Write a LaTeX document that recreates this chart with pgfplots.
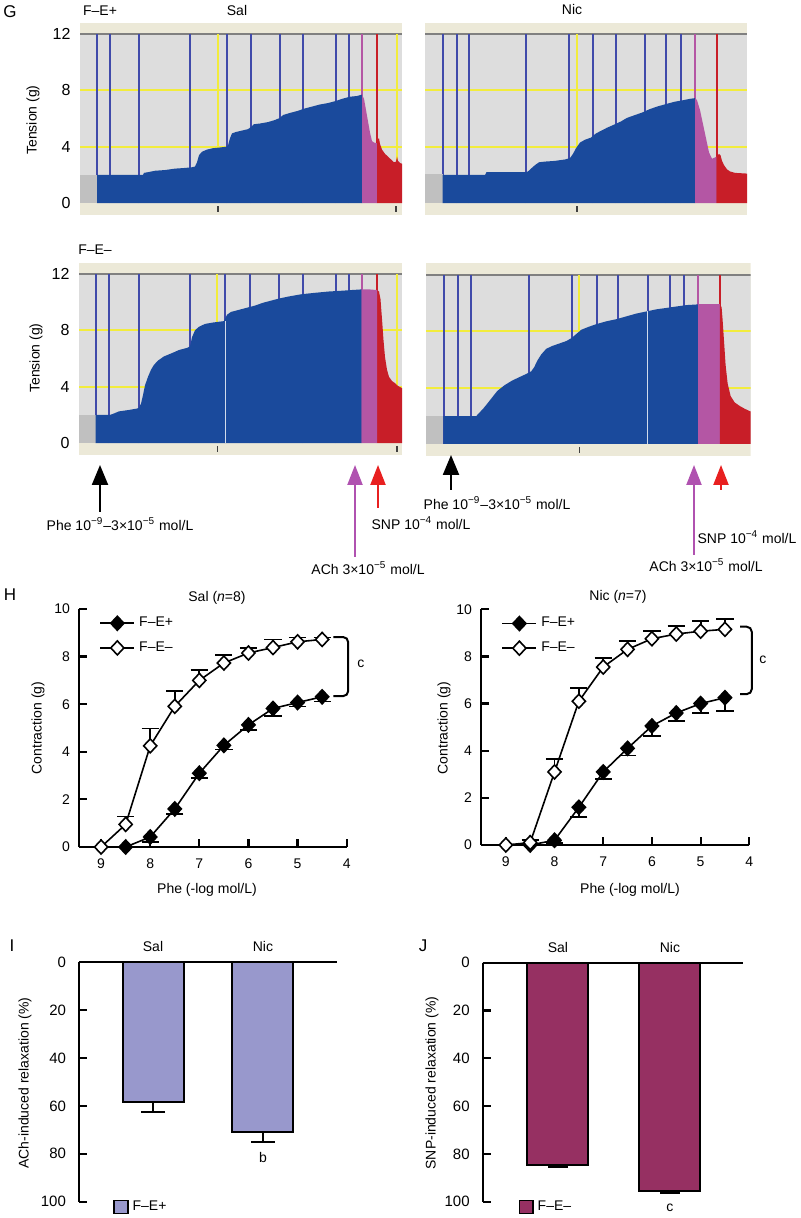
\documentclass[border=0pt]{standalone}
\usepackage{fontspec}
\setmainfont{Liberation Sans}
\usepackage{pgfplots}
\pgfplotsset{compat=1.18}
\usetikzlibrary{arrows.meta}
\definecolor{beige}{RGB}{236,233,216}
\definecolor{bggray}{RGB}{221,221,221}
\definecolor{tblue}{RGB}{26,74,156}
\definecolor{vblue}{RGB}{64,74,170}
\definecolor{tpink}{RGB}{180,86,164}
\definecolor{tred}{RGB}{200,30,40}
\definecolor{ylw}{RGB}{242,236,60}
\definecolor{gblock}{RGB}{192,192,192}
\definecolor{lav}{RGB}{152,152,204}
\definecolor{maroon}{RGB}{150,48,98}
\definecolor{apurple}{RGB}{176,82,176}
\definecolor{ared}{RGB}{232,32,32}
\newcommand{\sz}[1]{\fontsize{#1}{#1}\selectfont}
\pgfplotsset{
 trace/.style={scale only axis, height=96.25pt, xmin=0, ymin=-0.85, ymax=12.8,
   xtick=\empty, ytick={0,4,8,12}, major tick length=0pt, axis line style={draw=none},
   tick style={draw=none}, yticklabel style={font=\sz{8}, xshift=-1.2pt},
   /pgf/number format/assume math mode=true, anchor=north west},
 dr/.style={scale only axis, anchor=south west, axis lines*=left, axis line style={line width=1.1pt},
   tick style={line width=1.1pt, black}, tick align=inside, major tick length=4pt,
   clip=false, font=\sz{7}, /pgf/number format/assume math mode=true,
   xmin=4, ymin=0, ymax=10, x dir=reverse, xtick={4,5,6,7,8,9}, ytick={0,2,4,6,8,10},
   xticklabel style={yshift=-2.5pt}, yticklabel style={xshift=-1pt},
   legend style={draw=none, fill=none, at={(axis description cs:0.075,0.985)}, anchor=north west, font=\sz{7}, row sep=2pt, inner sep=0pt},
   legend cell align=left},
 fplus/.style={black, line width=0.8pt, mark=diamond*, mark size=3.5pt, mark options={fill=black, xscale=1.25, solid},
   error bars/.cd, y dir=minus, y explicit, error bar style={line width=0.9pt}, error mark options={rotate=90, mark size=4.3pt, line width=0.9pt}},
 fminus/.style={black, line width=0.8pt, mark=diamond*, mark size=3.5pt, mark options={fill=white, xscale=1.25, solid},
   error bars/.cd, y dir=plus, y explicit, error bar style={line width=0.9pt}, error mark options={rotate=90, mark size=4.3pt, line width=0.9pt}},
 rb/.style={scale only axis, anchor=south west, ymin=0, ymax=100, y dir=reverse, axis y line*=left, axis x line=none,
   ytick={0,20,40,60,80,100}, tick align=inside, major tick length=4pt, axis line style={line width=1.1pt},
   tick style={line width=1.1pt,black}, clip=false, font=\sz{7}, /pgf/number format/assume math mode=true,
   yticklabel style={xshift=-3pt, font=\sz{7.5}},
   legend style={draw=none, fill=none, font=\sz{7}, inner sep=0pt, anchor=west}},
}
\newcommand{\tbg}[1]{%
 \fill[beige] (axis cs:0,-0.85) rectangle (axis cs:#1,12.8);
 \fill[bggray] (axis cs:0,0) rectangle (axis cs:#1,12);
 \draw[ylw, line width=1pt] (axis cs:0,4) -- (axis cs:#1,4);
 \draw[ylw, line width=1pt] (axis cs:0,8) -- (axis cs:#1,8);
 \draw[gray, line width=1pt] (axis cs:0,12) -- (axis cs:#1,12);}
\newcommand{\vl}[2]{\draw[#1, line width=0.9pt] (axis cs:#2,0) -- (axis cs:#2,12);}
\newcommand{\tk}[1]{\draw[black!75, line width=0.8pt] (axis cs:#1,-0.2) -- (axis cs:#1,-0.65);}
\begin{document}
\begin{tikzpicture}[x=0.5pt,y=0.5pt]
\coordinate (pTL) at (80,{1218-22.7});
\coordinate (pTR) at (425,{1218-22.7});
\coordinate (pBL) at (79,{1218-262.6});
\coordinate (pBR) at (426,{1218-263.5});
\coordinate (pHL) at (79,{1218-847});
\coordinate (pHR) at (481,{1218-845});
\coordinate (pI) at (79,{1218-1201.7});
\coordinate (pJ) at (482.7,{1218-1201.7});

% ---------------- G: Sal F-E+ ----------------
\begin{axis}[trace, at={(pTL)}, width=161pt, xmax=322]
\tbg{322}
\vl{ylw}{138} \vl{ylw}{317}
\vl{vblue}{17} \vl{vblue}{30} \vl{vblue}{59} \vl{vblue}{110} \vl{vblue}{147}
\vl{vblue}{171} \vl{vblue}{200} \vl{vblue}{223} \vl{vblue}{256} \vl{vblue}{269}
\vl{tpink}{282} \vl{tred}{297}
\fill[gblock] (axis cs:0,0) rectangle (axis cs:17,2);
\addplot[fill=tblue, draw=none] coordinates {(17,2.0) (63,2.0) (64,2.15) (68,2.2) (75,2.3) (85,2.35) (95,2.45) (105,2.5) (112,2.55) (115,2.6) (117,2.9) (119,3.4) (122,3.65) (127,3.8) (133,3.9) (140,3.95) (146,4.0) (148,4.1) (150,4.6) (152,4.95) (156,5.05) (162,5.15) (168,5.25) (171,5.4) (174,5.6) (180,5.65) (188,5.75) (195,5.9) (200,6.05) (203,6.25) (210,6.4) (218,6.55) (224,6.7) (232,6.85) (240,7.0) (248,7.1) (256,7.25) (262,7.4) (270,7.55) (277,7.6) (282,7.7)} \closedcycle;
\addplot[fill=tpink, draw=none] coordinates {(282,7.7) (284,7.4) (286,6.6) (288,5.8) (290,5.0) (292,4.4) (294,4.3) (297,4.25)} \closedcycle;
\addplot[fill=tred, draw=none] coordinates {(297,4.5) (299,4.6) (300,4.2) (302,3.8) (305,3.5) (308,3.3) (311,3.1) (314,2.9) (316,2.95) (317,3.3) (318,3.0) (320,2.85) (322,2.8)} \closedcycle;
\tk{138} \tk{316}
\end{axis}

% ---------------- G: Nic F-E+ ----------------
\begin{axis}[trace, at={(pTR)}, width=161pt, xmax=322, yticklabels={}]
\tbg{322}
\vl{ylw}{151.7}
\vl{vblue}{17.7} \vl{vblue}{31.7} \vl{vblue}{44.3} \vl{vblue}{101} \vl{vblue}{144.3}
\vl{vblue}{168.3} \vl{vblue}{191} \vl{vblue}{220} \vl{vblue}{240.7} \vl{vblue}{256}
\vl{tpink}{270} \vl{tred}{291.7}
\fill[gblock] (axis cs:0,0) rectangle (axis cs:17.7,2.05);
\addplot[fill=tblue, draw=none] coordinates {(17.7,2.0) (60,2.0) (61.5,2.2) (100,2.2) (103,2.25) (106,2.45) (110,2.7) (114,2.9) (120,2.95) (130,3.0) (140,3.1) (145,3.2) (148,3.5) (151,3.9) (155,4.3) (160,4.5) (166,4.65) (170,4.9) (175,5.1) (182,5.35) (190,5.6) (196,5.8) (202,6.05) (210,6.25) (218,6.45) (224,6.65) (232,6.85) (242,7.05) (250,7.2) (258,7.3) (265,7.4) (270,7.45)} \closedcycle;
\addplot[fill=tpink, draw=none] coordinates {(270,7.45) (272,7.3) (275,6.6) (278,5.6) (281,4.6) (284,3.6) (287,3.15) (291.7,3.3)} \closedcycle;
\addplot[fill=tred, draw=none] coordinates {(291.7,3.3) (294,3.5) (295.5,3.4) (297,3.0) (299,2.7) (302,2.4) (305,2.25) (310,2.15) (322,2.1)} \closedcycle;
\tk{151.7}
\end{axis}

% ---------------- G: Sal F-E- ----------------
\begin{axis}[trace, at={(pBL)}, width=161.5pt, xmax=323]
\tbg{323}
\vl{ylw}{138.3} \vl{ylw}{317.7}
\vl{vblue}{17.3} \vl{vblue}{30} \vl{vblue}{60} \vl{vblue}{111} \vl{vblue}{146.3}
\vl{vblue}{171} \vl{vblue}{200.3} \vl{vblue}{224} \vl{vblue}{256.7} \vl{vblue}{270}
\vl{tpink}{282.7} \vl{tred}{298.3}
\fill[gblock] (axis cs:0,0) rectangle (axis cs:16.7,2.0);
\addplot[fill=tblue, draw=none] coordinates {(16.7,2.0) (31,2.0) (35,2.1) (40,2.25) (50,2.35) (58,2.45) (60,2.5) (62,2.8) (64,3.4) (66,4.1) (69,4.7) (72,5.2) (75,5.55) (79,5.85) (85,6.15) (92,6.35) (100,6.6) (108,6.75) (111,6.85) (113,7.5) (116,8.0) (120,8.25) (126,8.45) (134,8.55) (145,8.65) (148,9.1) (152,9.3) (160,9.45) (168,9.6) (176,9.75) (184,9.95) (192,10.1) (200,10.25) (210,10.4) (222,10.55) (235,10.65) (250,10.75) (262,10.8) (272,10.85) (282.7,10.9)} \closedcycle;
\addplot[fill=tpink, draw=none] coordinates {(282.7,10.9) (290,10.9) (298.3,10.85)} \closedcycle;
\addplot[fill=tred, draw=none] coordinates {(298.3,10.85) (300,10.75) (301.5,10.2) (303,8.8) (304.5,7.3) (306,6.1) (308,5.2) (310,4.7) (313,4.4) (316,4.25) (319,4.05) (323,3.9)} \closedcycle;
\draw[white!80!tblue, line width=0.8pt] (axis cs:146.3,0) -- (axis cs:146.3,8.65);
\tk{138.3} \tk{317.7}
\end{axis}

% ---------------- G: Nic F-E- ----------------
\begin{axis}[trace, at={(pBR)}, width=162pt, xmax=324, yticklabels={}]
\tbg{324}
\vl{ylw}{153}
\vl{vblue}{18} \vl{vblue}{32.3} \vl{vblue}{45} \vl{vblue}{103} \vl{vblue}{145.7}
\vl{vblue}{170.7} \vl{vblue}{191.3} \vl{vblue}{221.2} \vl{vblue}{243.3} \vl{vblue}{257.3}
\vl{tpink}{271.7} \vl{tred}{293.3}
\fill[gblock] (axis cs:0,0) rectangle (axis cs:17.3,2.0);
\addplot[fill=tblue, draw=none] coordinates {(17.3,1.97) (50,1.97) (53,2.2) (57,2.5) (61,2.85) (66,3.3) (71,3.75) (78,4.15) (86,4.5) (95,4.8) (101,5.0) (105,5.15) (108,5.45) (111,5.9) (115,6.35) (120,6.75) (126,6.95) (132,7.1) (140,7.3) (145,7.5) (150,7.8) (155,8.1) (162,8.3) (170,8.5) (180,8.7) (190,8.85) (200,9.05) (210,9.25) (220,9.4) (230,9.55) (240,9.65) (250,9.75) (260,9.85) (271.7,9.9)} \closedcycle;
\addplot[fill=tpink, draw=none] coordinates {(271.7,9.9) (293.3,9.9)} \closedcycle;
\addplot[fill=tred, draw=none] coordinates {(293.3,9.9) (295,9.7) (296,8.8) (297.5,7.2) (299,5.6) (301,4.3) (304,3.4) (308,2.95) (313,2.7) (318,2.5) (324,2.3)} \closedcycle;
\draw[white!80!tblue, line width=0.8pt] (axis cs:221.2,0) -- (axis cs:221.2,9.4);
\tk{153}
\end{axis}

% G texts
\node[font=\sz{8.5}] at (10,{1218-12}) {G};
\node[font=\sz{7}] at (100,{1218-11}) {F–E+};
\node[font=\sz{7}] at (237,{1218-11}) {Sal};
\node[font=\sz{7}] at (572,{1218-10}) {Nic};
\node[font=\sz{7}] at (95,{1218-250}) {F–E–};
\node[font=\sz{7}, rotate=90] at (33,{1218-120}) {Tension (g)};
\node[font=\sz{7}, rotate=90] at (36,{1218-358}) {Tension (g)};
% arrows
\draw[black, line width=1.1pt, -{Triangle[width=8pt,length=10pt]}] (100,{1218-512}) -- (100,{1218-465});
\draw[apurple, line width=1.1pt, -{Triangle[width=7.5pt,length=10pt]}] (355,{1218-557}) -- (355,{1218-465});
\draw[ared, line width=1.1pt, -{Triangle[width=7.5pt,length=10pt]}] (378,{1218-508}) -- (378,{1218-465});
\draw[black, line width=1.1pt, -{Triangle[width=8pt,length=10pt]}] (451,{1218-490}) -- (451,{1218-455});
\draw[apurple, line width=1.1pt, -{Triangle[width=7.5pt,length=10pt]}] (694,{1218-555}) -- (694,{1218-465});
\draw[ared, line width=1.1pt, -{Triangle[width=7.5pt,length=10pt]}] (721,{1218-490}) -- (721,{1218-465});
\node[font=\sz{7}] at (120,{1218-524}) {Phe 10\textsuperscript{−9}–3×10\textsuperscript{−5} mol/L};
\node[font=\sz{7}] at (421,{1218-523}) {SNP 10\textsuperscript{−4} mol/L};
\node[font=\sz{7}] at (368,{1218-568}) {ACh 3×10\textsuperscript{−5} mol/L};
\node[font=\sz{7}] at (497,{1218-503}) {Phe 10\textsuperscript{−9}–3×10\textsuperscript{−5} mol/L};
\node[font=\sz{7}] at (747,{1218-537}) {SNP 10\textsuperscript{−4} mol/L};
\node[font=\sz{7}] at (706,{1218-565}) {ACh 3×10\textsuperscript{−5} mol/L};

% ---------------- H: Sal ----------------
\begin{axis}[dr, at={(pHL)}, width=133.85pt, height=119pt, xmax=9.45]
\addplot[fplus] coordinates {(8.5,0) +- (0,0) (8,0.42) +- (0,0.2) (7.5,1.6) +- (0,0.2) (7,3.1) +- (0,0.2) (6.5,4.27) +- (0,0.17) (6,5.13) +- (0,0.2) (5.5,5.82) +- (0,0.32) (5,6.07) +- (0,0.17) (4.5,6.31) +- (0,0.2)};
\addlegendentry{F–E+}
\addplot[fminus] coordinates {(9,0) +- (0,0) (8.5,0.95) +- (0,0.33) (8,4.25) +- (0,0.73) (7.5,5.91) +- (0,0.63) (7,7.0) +- (0,0.42) (6.5,7.73) +- (0,0.32) (6,8.15) +- (0,0.2) (5.5,8.38) +- (0,0.34) (5,8.62) +- (0,0.18) (4.5,8.72) +- (0,0.08)};
\addlegendentry{F–E–}
\draw[line width=1pt, rounded corners=2.5pt] (axis cs:4.27,8.82) -- (axis cs:3.97,8.82) -- (axis cs:3.97,6.34) -- (axis cs:4.27,6.34);
\node[font=\sz{7}] at (axis cs:3.71,7.69) {c};
\end{axis}

% ---------------- H: Nic ----------------
\begin{axis}[dr, at={(pHR)}, width=134.15pt, height=117.85pt, xmax=9.51]
\addplot[fplus] coordinates {(8.5,0) +- (0,0) (8,0.2) +- (0,0.1) (7.5,1.6) +- (0,0.4) (7,3.1) +- (0,0.3) (6.5,4.1) +- (0,0.3) (6,5.05) +- (0,0.42) (5.5,5.6) +- (0,0.35) (5,6.0) +- (0,0.4) (4.5,6.25) +- (0,0.55)};
\addlegendentry{F–E+}
\addplot[fminus] coordinates {(9,0) +- (0,0) (8.5,0.1) +- (0,0.1) (8,3.1) +- (0,0.56) (7.5,6.1) +- (0,0.55) (7,7.55) +- (0,0.4) (6.5,8.3) +- (0,0.35) (6,8.75) +- (0,0.32) (5.5,8.95) +- (0,0.35) (5,9.07) +- (0,0.43) (4.5,9.15) +- (0,0.45)};
\addlegendentry{F–E–}
\draw[line width=1pt, rounded corners=2.5pt] (axis cs:4.19,9.26) -- (axis cs:3.95,9.26) -- (axis cs:3.95,6.4) -- (axis cs:4.19,6.4);
\node[font=\sz{7}] at (axis cs:3.72,7.85) {c};
\end{axis}

% H texts
\node[font=\sz{8.5}] at (10,{1218-595}) {H};
\node[font=\sz{7}] at (217,{1218-598}) {Sal (\textit{n}=8)};
\node[font=\sz{7}] at (618,{1218-597}) {Nic (\textit{n}=7)};
\node[font=\sz{7}, rotate=90] at (38,{1218-728}) {Contraction (g)};
\node[font=\sz{7}, rotate=90] at (444,{1218-728}) {Contraction (g)};
\node[font=\sz{7}] at (207,{1218-890}) {Phe (-log mol/L)};
\node[font=\sz{7}] at (630,{1218-890}) {Phe (-log mol/L)};

% ---------------- I ----------------
\begin{axis}[rb, at={(pI)}, width=129pt, height=119.7pt, xmin=-0.673, xmax=1.673,
  legend style={at={(axis description cs:0.132,-0.022)}}]
\addlegendimage{legend image code/.code={\draw[fill=lav, line width=0.8pt] (0pt,-3.2pt) rectangle (6.8pt,3.2pt);}}
\addlegendentry{F–E+}
\addplot[ybar, bar width=30.5pt, fill=lav, draw=black, line width=1pt,
  error bars/.cd, y dir=plus, y explicit, error bar style={line width=1pt}, error mark options={rotate=90, mark size=6pt, line width=1pt}]
  coordinates {(0,58.3) +- (0,4.2) (1,71) +- (0,4.0)};
\draw[line width=1.1pt] (axis cs:-0.673,0) -- (axis cs:1.673,0);
\node[font=\sz{7}] at (axis cs:0,-6.4) {Sal};
\node[font=\sz{7}] at (axis cs:1,-6.4) {Nic};
\node[font=\sz{7}] at (axis cs:1,81.7) {b};
\end{axis}
\node[font=\sz{8.5}] at (12,{1218-946}) {I};
\node[font=\sz{7}, rotate=90] at (25,{1218-1083}) {ACh-induced relaxation (\%)};

% ---------------- J ----------------
\begin{axis}[rb, at={(pJ)}, width=130.15pt, height=119.5pt, xmin=-0.672, xmax=1.652,
  legend style={at={(axis description cs:0.136,-0.022)}}]
\addlegendimage{legend image code/.code={\draw[fill=maroon, line width=0.8pt] (0pt,-3.2pt) rectangle (6.8pt,3.2pt);}}
\addlegendentry{F–E–}
\addplot[ybar, bar width=30.5pt, fill=maroon, draw=black, line width=1pt,
  error bars/.cd, y dir=plus, y explicit, error bar style={line width=1pt}, error mark options={rotate=90, mark size=5pt, line width=1pt}]
  coordinates {(0,84.7) +- (0,0.8) (1,95.4) +- (0,0.8)};
\draw[line width=1.1pt] (axis cs:-0.672,0) -- (axis cs:1.652,0);
\node[font=\sz{7}] at (axis cs:0,-6.4) {Sal};
\node[font=\sz{7}] at (axis cs:1,-6.4) {Nic};
\node[font=\sz{7}] at (axis cs:1,102.6) {c};
\end{axis}
\node[font=\sz{8.5}] at (423,{1218-946}) {J};
\node[font=\sz{7}, rotate=90] at (432,{1218-1083}) {SNP-induced relaxation (\%)};
\pgfresetboundingbox
\path[use as bounding box] (0,0) rectangle (800,1218);
\end{tikzpicture}
\end{document}
